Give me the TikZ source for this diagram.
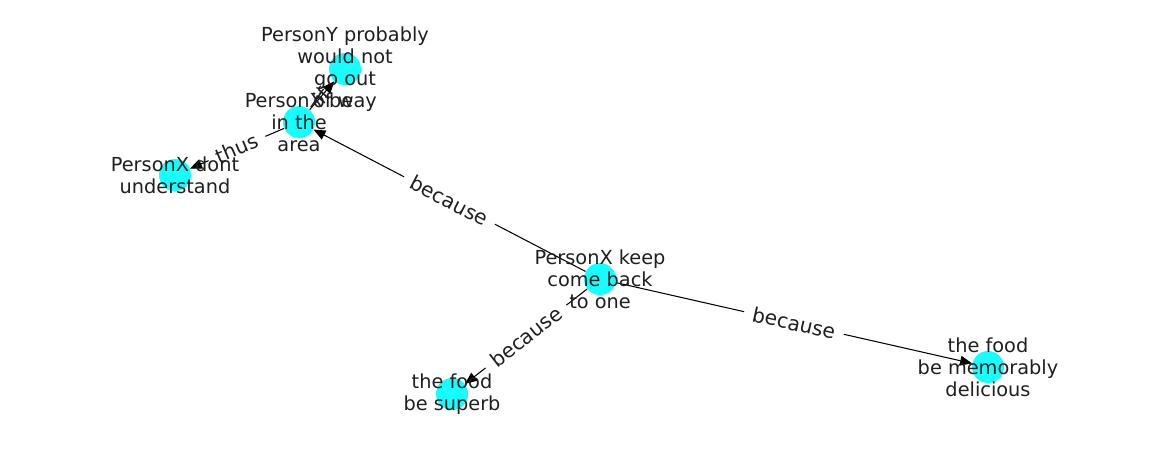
\documentclass[tikz,border=0pt]{standalone}
\usepackage{fontspec}
\setmainfont{DejaVu Sans}
\usetikzlibrary{arrows.meta}
\definecolor{nodecyan}{RGB}{22,255,255}
\tikzset{
vertex/.style={circle,fill=nodecyan,minimum size=0.64cm,inner sep=0pt},
vtext/.style={align=center,font=\fontsize{11}{12.5}\selectfont,text=black!88},
link/.style={-{Triangle[length=6.8pt,width=5.6pt]},line width=0.6pt},
ltext/.style={sloped,fill=white,inner xsep=5pt,inner ysep=1pt,font=\fontsize{11.5}{12}\selectfont,text=black!88}
}
\begin{document}
\begin{tikzpicture}[x=0.02cm,y=-0.02cm]
\useasboundingbox (0,0) rectangle (1162,462);
\node[vertex](keep) at (600,279){};
\node[vertex](area) at (299,122){};
\node[vertex](outway) at (345,69){};
\node[vertex](dont) at (175,175){};
\node[vertex](superb) at (452,394){};
\node[vertex](delicious) at (988,367){};
\draw[link](keep)--(area);
\draw[link](keep)--(superb);
\draw[link](keep)--(delicious);
\draw[link](area)--(dont);
\draw[link](area)--(outway);
\path(keep)--(area)node[ltext,pos=0.5](l1){because};
\path(keep)--(superb)node[ltext,pos=0.5](l2){because};
\path(keep)--(delicious)node[ltext,pos=0.5](l3){because};
\path(area)--(dont)node[ltext,pos=0.5](l4){thus};
\path(area)--(outway)node[ltext,pos=0.5,fill=none](l5){if};
\node[vtext](keep-t) at (keep){PersonX keep\\come back\\to one};
\node[vtext](area-t) at (area){PersonX be\\in the\\area};
\node[vtext](outway-t) at (outway){PersonY probably\\would not\\go out\\of way};
\node[vtext](dont-t) at (dont){PersonX dont\\understand};
\node[vtext](superb-t) at (superb){the food\\be superb};
\node[vtext](delicious-t) at (delicious){the food\\be memorably\\delicious};
\end{tikzpicture}
\end{document}
